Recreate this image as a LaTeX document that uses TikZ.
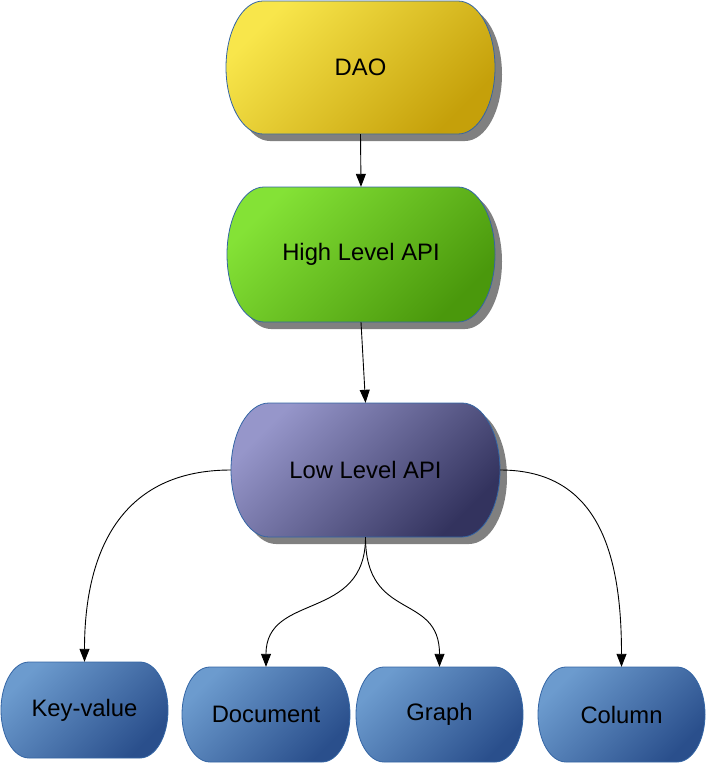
\documentclass[tikz,border=0pt]{standalone}
\usepackage{fontspec}
\setmainfont{Liberation Sans}
\usetikzlibrary{arrows.meta}
\definecolor{edgeblue}{HTML}{3465A4}
\definecolor{shadowgray}{HTML}{808080}
\definecolor{daoA}{HTML}{F8E64B}
\definecolor{daoB}{HTML}{C5A00A}
\definecolor{hiA}{HTML}{84E236}
\definecolor{hiB}{HTML}{4A980C}
\definecolor{loA}{HTML}{9696CA}
\definecolor{loB}{HTML}{33335E}
\definecolor{btA}{HTML}{6C9BCE}
\definecolor{btB}{HTML}{2A4F8C}
% #1 options, #2 cx, #3 cy, #4 half width, #5 half height, #6 arc x radius
\newcommand\mycap[6]{%
  \path[#1] (#2-#4+#6,#3+#5) -- (#2+#4-#6,#3+#5)
    arc[start angle=90,end angle=-90,x radius=#6,y radius=#5]
    -- (#2-#4+#6,#3-#5)
    arc[start angle=270,end angle=90,x radius=#6,y radius=#5] -- cycle;}
\tikzset{
  lbl/.style={inner sep=0pt,font=\fontsize{23.8}{28}\selectfont,text=black},
  conn/.style={draw=black,line width=0.9pt,-{Triangle[length=13pt,width=10pt]}},
  shapeline/.style={draw=edgeblue,line width=0.8pt},
  shd/.style={fill=shadowgray}
}
\begin{document}
\begin{tikzpicture}[x=1pt,y=1pt]
\useasboundingbox (0,0) rectangle (706,-763);
% shadows
\mycap{shd}{367.5}{-74.5}{134.5}{66.5}{37}
\mycap{shd}{368}{-261.5}{134}{67.5}{37}
\mycap{shd}{372.5}{-477}{134.5}{67}{38}
% shapes
\mycap{shapeline,top color=daoA,bottom color=daoB,shading angle=45}{360.5}{-67.5}{134.5}{66.5}{37}
\mycap{shapeline,top color=hiA,bottom color=hiB,shading angle=45}{361}{-254.5}{134}{67.5}{37}
\mycap{shapeline,top color=loA,bottom color=loB,shading angle=45}{365.5}{-470}{134.5}{67}{38}
\mycap{shapeline,top color=btA,bottom color=btB,shading angle=45}{84.5}{-710}{83.5}{48}{28}
\mycap{shapeline,top color=btA,bottom color=btB,shading angle=45}{266}{-714.5}{84}{47.5}{28}
\mycap{shapeline,top color=btA,bottom color=btB,shading angle=45}{439.5}{-714.5}{83.5}{47.5}{28}
\mycap{shapeline,top color=btA,bottom color=btB,shading angle=45}{621.5}{-714.5}{83.5}{47.5}{28}
% text nodes
\node[lbl,minimum width=269pt,minimum height=133pt] (dao) at (360.5,-67.5) {DAO};
\node[lbl,minimum width=268pt,minimum height=135pt] (hi) at (361,-254.5) {High Level API};
\node[lbl,minimum width=269pt,minimum height=134pt] (lo) at (365.5,-470) {Low Level API};
\node[lbl,minimum width=167pt,minimum height=96pt] (kv) at (84.5,-710) {Key-value};
\node[lbl,minimum width=168pt,minimum height=95pt] (doc) at (266,-714.5) {Document};
\node[lbl,minimum width=167pt,minimum height=95pt] (gr) at (439.5,-714.5) {Graph};
\node[lbl,minimum width=167pt,minimum height=95pt] (col) at (621.5,-714.5) {Column};
% connectors
\draw[conn] (dao.south) -- (hi.north);
\draw[conn] (hi.south) -- (lo.north);
\draw[conn] (lo.west) .. controls +(-110,0) and +(0,110) .. (kv.north);
\draw[conn] (lo.south) .. controls +(0,-85) and +(0,75) .. (doc.north);
\draw[conn] (lo.south) .. controls +(0,-85) and +(0,75) .. (gr.north);
\draw[conn] (lo.east) .. controls +(100,0) and +(0,110) .. (col.north);
\end{tikzpicture}
\end{document}
